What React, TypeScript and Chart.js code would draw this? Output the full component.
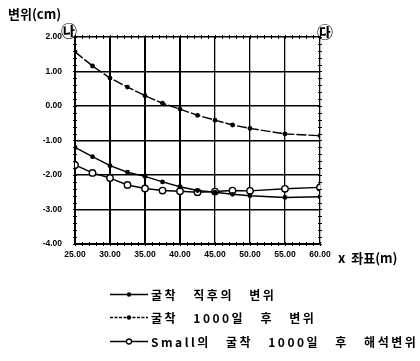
import React, { useEffect, useRef } from "react";
import { Chart, registerables } from "chart.js";

Chart.register(...registerables);

const xValues = [25, 27.5, 30, 32.5, 35, 37.5, 40, 42.5, 45, 47.5, 50, 55, 60];
const topSeries = [1.57, 1.16, 0.81, 0.55, 0.3, 0.08, -0.09, -0.27, -0.41, -0.55, -0.65, -0.81, -0.86];
const middleSeries = [-1.2, -1.47, -1.73, -1.92, -2.04, -2.2, -2.34, -2.45, -2.5, -2.56, -2.6, -2.65, -2.63];
const smallSeries = [-1.71, -1.94, -2.09, -2.29, -2.39, -2.45, -2.47, -2.5, -2.48, -2.45, -2.46, -2.4, -2.36];

const legendLabels = ["굴착 직후의 변위", "굴착 1000일 후 변위", "Small의 굴착 1000일 후 해석변위"];
const yTitle = "변위(cm)";
const xTitle = "x  좌표(m)";
const leftMark = "㉯";
const rightMark = "㉰";

const FONT_KR = "'Noto Sans CJK KR', 'Noto Sans', sans-serif";

const toPoints = (ys: number[]) => xValues.map((x, i) => ({ x, y: ys[i] }));

const extrasPlugin = {
  id: "extras",
  afterDraw(chart: any) {
    const ctx = chart.ctx as CanvasRenderingContext2D;
    const { left, right, top, bottom } = chart.chartArea;
    const xs = chart.scales.x;
    const ys = chart.scales.y;
    ctx.save();
    // minor ticks
    ctx.strokeStyle = "#000";
    ctx.lineWidth = 1;
    for (let v = -4; v <= 2.0001; v += 0.2) {
      const py = Math.round(ys.getPixelForValue(v)) + 0.5;
      ctx.beginPath();
      ctx.moveTo(left - 2, py);
      ctx.lineTo(left + 2, py);
      ctx.moveTo(right - 2, py);
      ctx.lineTo(right + 2, py);
      ctx.stroke();
    }
    for (let v = 25; v <= 60.0001; v += 1) {
      const px = Math.round(xs.getPixelForValue(v)) + 0.5;
      ctx.beginPath();
      ctx.moveTo(px, bottom - 2);
      ctx.lineTo(px, bottom + 2);
      ctx.moveTo(px, top - 2);
      ctx.lineTo(px, top + 2);
      ctx.stroke();
    }
    // titles
    ctx.fillStyle = "#000";
    ctx.textBaseline = "middle";
    ctx.textAlign = "left";
    ctx.font = `bold 13px ${FONT_KR}`;
    ctx.fillText(yTitle, 8, 14);
    ctx.fillText(xTitle, 338, 258);
    ctx.font = `bold 16px ${FONT_KR}`;
    ctx.textAlign = "center";
    ctx.fillText(leftMark, 69, 31);
    ctx.fillText(rightMark, 325, 32);

    // legend
    const rows = [294, 317, 341];
    ctx.textAlign = "left";
    rows.forEach((ry, i) => {
      const y = ry + 0.5;
      ctx.lineWidth = 1.3;
      ctx.setLineDash(i === 1 ? [3, 1.5] : []);
      ctx.beginPath();
      ctx.moveTo(110, y);
      ctx.lineTo(148, y);
      ctx.stroke();
      ctx.setLineDash([]);
      if (i === 2) {
        ctx.beginPath();
        ctx.arc(129, y, 2.5, 0, Math.PI * 2);
        ctx.fillStyle = "#fff";
        ctx.fill();
        ctx.stroke();
      } else {
        ctx.beginPath();
        ctx.arc(129, y, 2.2, 0, Math.PI * 2);
        ctx.fillStyle = "#000";
        ctx.fill();
      }
      ctx.fillStyle = "#000";
      ctx.font = `bold 12px ${FONT_KR}`;
      (ctx as any).letterSpacing = "2.5px";
      (ctx as any).wordSpacing = "10px";
      ctx.fillText(legendLabels[i], 151, ry + 1);
      (ctx as any).letterSpacing = "0px";
      (ctx as any).wordSpacing = "0px";
    });
    ctx.restore();
  },
};

export default function App() {
  const ref = useRef<HTMLCanvasElement>(null);
  useEffect(() => {
    if (!ref.current) return;
    const tickFont = { family: "'Liberation Sans', Arial, sans-serif", size: 8.5, weight: "bold" as const };
    const chart = new Chart(ref.current, {
      type: "line",
      data: {
        datasets: [
          {
            label: legendLabels[1],
            data: toPoints(topSeries),
            borderColor: "#000",
            backgroundColor: "#000",
            borderWidth: 1.4,
            borderDash: [10, 2],
            pointRadius: 2.4,
            pointBorderWidth: 0,
            pointBackgroundColor: "#000",
            tension: 0,
          },
          {
            label: legendLabels[0],
            data: toPoints(middleSeries),
            borderColor: "#000",
            backgroundColor: "#000",
            borderWidth: 1.4,
            pointRadius: 2.4,
            pointBorderWidth: 0,
            pointBackgroundColor: "#000",
            tension: 0,
          },
          {
            label: legendLabels[2],
            data: toPoints(smallSeries),
            borderColor: "#000",
            backgroundColor: "#fff",
            borderWidth: 1.4,
            pointRadius: 3.2,
            pointBorderWidth: 1.4,
            pointBackgroundColor: "#fff",
            pointBorderColor: "#000",
            tension: 0,
          },
        ],
      },
      options: {
        responsive: false,
        animation: false,
        devicePixelRatio: 1,
        layout: { padding: { left: 0, top: 37, right: 100, bottom: 0 } },
        plugins: { legend: { display: false }, tooltip: { enabled: false } },
        scales: {
          x: {
            type: "linear",
            min: 25,
            max: 60,
            ticks: {
              stepSize: 5,
              color: "#000",
              font: tickFont,
              padding: 6,
              maxRotation: 0,
              callback: (v: any) => Number(v).toFixed(2),
            },
            grid: {
              color: "#000",
              lineWidth: (c: any) => {
                const v = c.tick ? c.tick.value : 0;
                return v === 30 || v === 35 || v === 40 ? 2 : 1.3;
              },
              drawTicks: false,
            },
            border: { color: "#000", width: 2 },
            afterFit: (s: any) => {
              s.height = 117;
            },
          },
          y: {
            type: "linear",
            min: -4,
            max: 2,
            ticks: {
              stepSize: 1,
              color: "#000",
              font: tickFont,
              padding: 13,
              callback: (v: any) => Number(v).toFixed(2),
            },
            grid: { color: "#000", lineWidth: 1.5, drawTicks: false },
            border: { color: "#000", width: 2 },
            afterFit: (s: any) => {
              s.width = 75;
            },
          },
        },
      },
      plugins: [extrasPlugin],
    });
    return () => chart.destroy();
  }, []);
  return (
    <div style={{ position: "absolute", left: 0, top: 0, width: 420, height: 361, background: "#fff" }}>
      <canvas ref={ref} width={420} height={361} style={{ display: "block" }} />
    </div>
  );
}
